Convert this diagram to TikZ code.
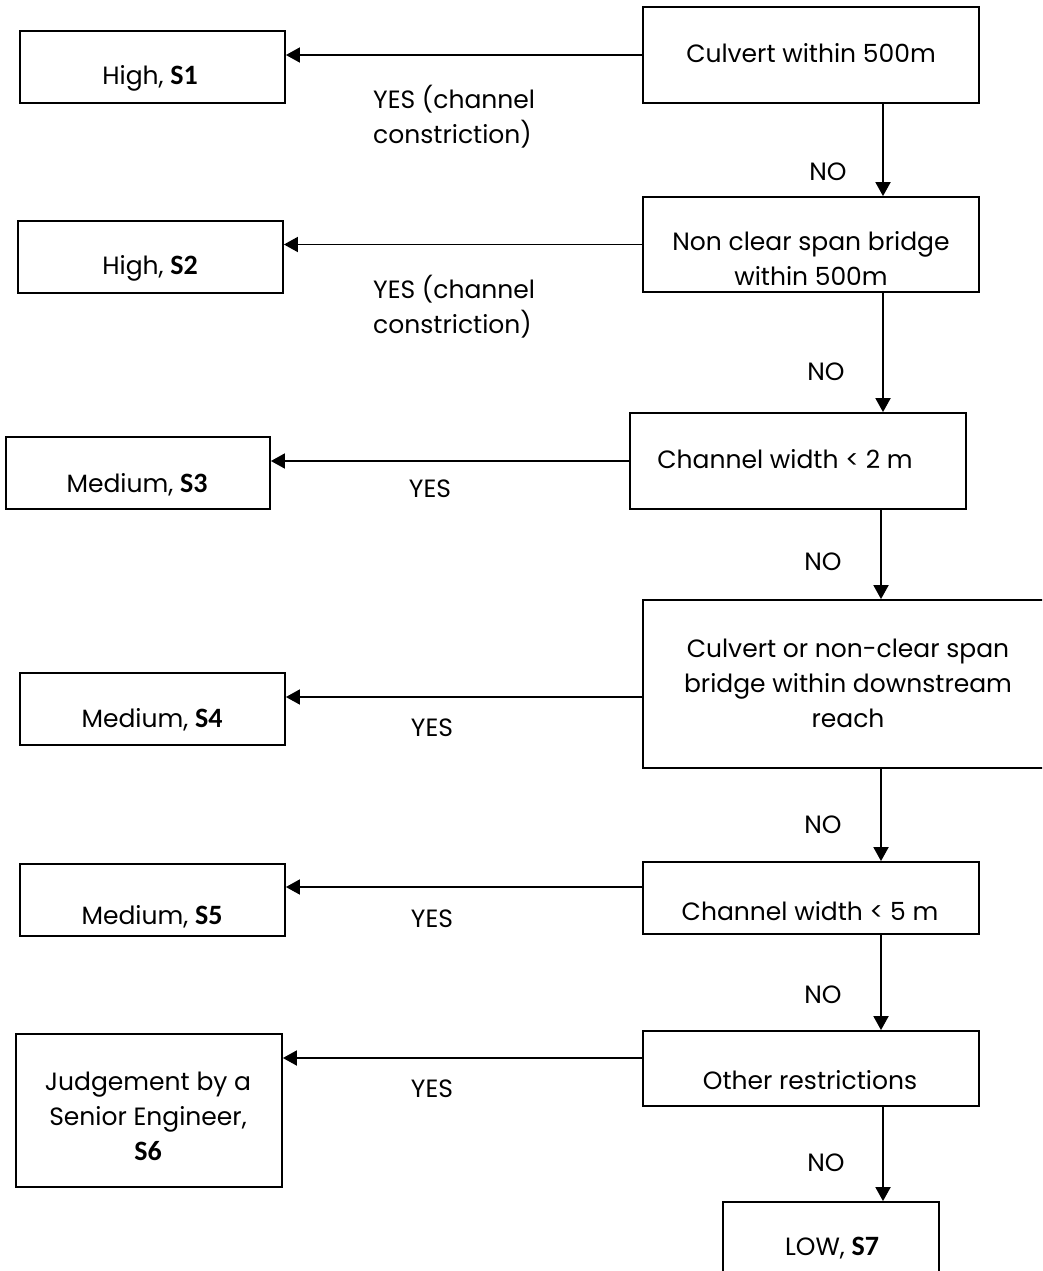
\documentclass[tikz,border=0pt]{standalone}
\usepackage{fontspec}
\setmainfont{Poppins}
\newfontfamily\calfont{Carlito}
\usetikzlibrary{arrows.meta}
\newcommand{\boldS}[1]{{\calfont\bfseries\fontsize{28}{35}\selectfont #1}}
\begin{document}
\begin{tikzpicture}[x=1pt,y=-1pt,
  box/.style={draw=black,line width=1.8pt,inner sep=0pt},
  txt/.style={inner sep=0pt,align=center,font=\fontsize{25}{35}\selectfont},
  lab/.style={inner sep=0pt,align=left,font=\fontsize{25}{35}\selectfont},
  arr/.style={line width=1.8pt,-{Triangle[length=14pt,width=15pt]}}]
\useasboundingbox (0,0) rectangle (1042,1271);
\clip (0,0) rectangle (1042,1271);
% decision boxes
\node[box,minimum width=336,minimum height=96] (b1) at (811,55) {};
\node[box,minimum width=336,minimum height=95] (b2) at (811,244.5) {};
\node[box,minimum width=336,minimum height=96] (b3) at (798,461) {};
\node[box,minimum width=417,minimum height=168] (b4) at (851.5,684) {};
\node[box,minimum width=336,minimum height=72] (b5) at (811,898) {};
\node[box,minimum width=336,minimum height=75] (b6) at (811,1068.5) {};
\node[box,minimum width=216,minimum height=88] (b7) at (831,1246) {};
% outcome boxes
\node[box,minimum width=265,minimum height=72] (s1) at (152.5,67) {};
\node[box,minimum width=265,minimum height=72] (s2) at (150.5,257) {};
\node[box,minimum width=264,minimum height=72] (s3) at (138,473) {};
\node[box,minimum width=265,minimum height=72] (s4) at (152.5,709) {};
\node[box,minimum width=265,minimum height=72] (s5) at (152.5,900) {};
\node[box,minimum width=266,minimum height=153] (s6) at (149,1110.5) {};
% texts
\node[txt] (t1) at (811,53) {Culvert within 500m};
\node[txt] (t2) at (811,259) {Non clear span bridge\\within 500m};
\node[txt] (t3) at (785,459) {Channel width < 2 m};
\node[txt] (t4) at (848,683) {Culvert or non-clear span\\bridge within downstream\\reach};
\node[txt] (t5) at (810,911) {Channel width < 5 m};
\node[txt] (t6) at (810,1080) {Other restrictions};
\node[txt] (t7) at (832,1248) {LOW, \boldS{S7}};
\node[txt] (u1) at (150,78) {High, \boldS{S1}};
\node[txt] (u2) at (150,268) {High, \boldS{S2}};
\node[txt] (u3) at (137,485) {Medium, \boldS{S3}};
\node[txt] (u4) at (152,720) {Medium, \boldS{S4}};
\node[txt] (u5) at (152,917) {Medium, \boldS{S5}};
\node[txt] (u6) at (148,1116) {Judgement by a\\Senior Engineer,\\\boldS{S6}};
% horizontal YES arrows
\draw[arr] (b1.west) -- (b1.west -| s1.east);
\draw[arr] (b2.west) -- (b2.west -| s2.east);
\draw[arr] (b3.west) -- (b3.west -| s3.east);
\draw[arr] ([yshift=-13pt]b4.west) -- ([yshift=-13pt]b4.west -| s4.east);
\draw[arr] ([yshift=11pt]b5.west) -- ([yshift=11pt]b5.west -| s5.east);
\draw[arr] ([yshift=10.5pt]b6.west) -- ([yshift=10.5pt]b6.west -| s6.east);
% vertical NO arrows
\draw[arr] ([xshift=72]b1.south) -- ([xshift=72]b1.south |- b2.north);
\draw[arr] ([xshift=72]b2.south) -- ([xshift=72]b2.south |- b3.north);
\draw[arr] ([xshift=83]b3.south) -- ([xshift=83]b3.south |- b4.north);
\draw[arr] ([xshift=29.5]b4.south) -- ([xshift=29.5]b4.south |- b5.north);
\draw[arr] ([xshift=70]b5.south) -- ([xshift=70]b5.south |- b6.north);
\draw[arr] ([xshift=72]b6.south) -- ([xshift=72]b6.south |- b7.north);
% labels
\node[lab,anchor=west] (y1) at (373,117) {YES (channel\\constriction)};
\node[lab,anchor=west] (y2) at (373,307) {YES (channel\\constriction)};
\node[txt] (y3) at (430,489) {YES};
\node[txt] (y4) at (432,728) {YES};
\node[txt] (y5) at (432,919) {YES};
\node[txt] (y6) at (432,1089) {YES};
\node[txt] (n1) at (828,172) {NO};
\node[txt] (n2) at (826,372) {NO};
\node[txt] (n3) at (823,562) {NO};
\node[txt] (n4) at (823,825) {NO};
\node[txt] (n5) at (823,995) {NO};
\node[txt] (n6) at (826,1163) {NO};
\end{tikzpicture}
\end{document}
